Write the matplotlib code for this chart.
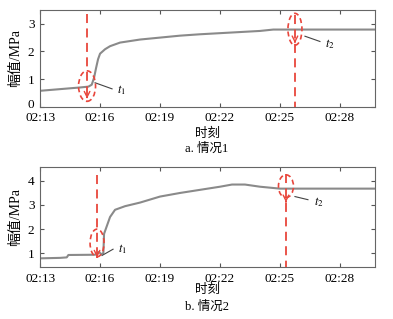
import matplotlib
matplotlib.use("Agg")
import matplotlib.pyplot as plt
import matplotlib.transforms as mtransforms
from matplotlib.patches import Ellipse

plt.rcParams['font.family'] = ['Liberation Serif', 'Noto Sans CJK SC']
plt.rcParams['mathtext.fontset'] = 'stix'

# ---- data ----
times_a = ["02:13:00", "02:14:00", "02:15:00", "02:15:25", "02:15:35", "02:15:42",
           "02:15:48", "02:15:54", "02:16:00", "02:16:15", "02:16:30", "02:17:00",
           "02:18:00", "02:19:00", "02:20:00", "02:21:00", "02:22:00", "02:23:00",
           "02:24:00", "02:24:40", "02:29:45"]
values_a = [0.58, 0.64, 0.70, 0.73, 0.80, 1.05, 1.40, 1.72, 1.92, 2.08, 2.19, 2.32,
            2.43, 2.50, 2.57, 2.62, 2.66, 2.70, 2.74, 2.79, 2.79]

times_b = ["02:13:00", "02:14:00", "02:14:20", "02:14:25", "02:15:45", "02:15:57",
           "02:16:03", "02:16:10", "02:16:12", "02:16:30", "02:16:45", "02:17:15",
           "02:18:00", "02:19:00", "02:20:00", "02:21:00", "02:22:00", "02:22:36",
           "02:23:15", "02:24:00", "02:25:00", "02:29:45"]
values_b = [0.78, 0.80, 0.82, 0.92, 0.93, 1.05, 0.95, 1.00, 1.80, 2.50, 2.80, 2.95,
            3.10, 3.35, 3.50, 3.63, 3.76, 3.85, 3.85, 3.76, 3.68, 3.68]

tick_labels = ["02:13", "02:16", "02:19", "02:22", "02:25", "02:28"]
event_times_a = ["02:15:21", "02:25:45"]
event_times_b = ["02:15:51", "02:25:18"]
captions = ["a. 情况1", "b. 情况2"]


def to_min(s):
    parts = [int(p) for p in s.split(":")]
    h, m = parts[0], parts[1]
    sec = parts[2] if len(parts) > 2 else 0
    return h * 60 + m + sec / 60.0


RED = '#e8463c'
GRAY = '#8a8a8a'

fig = plt.figure(figsize=(3.93, 3.19), dpi=100)
ax1 = fig.add_axes([0.102, 0.665, 0.852, 0.304])
ax2 = fig.add_axes([0.102, 0.163, 0.852, 0.3135])

tick_pos = [to_min(t) for t in tick_labels]


def style(ax, ylim, yticks):
    ax.set_xlim(to_min("02:13:00"), to_min("02:29:45"))
    ax.set_ylim(*ylim)
    ax.set_xticks(tick_pos)
    ax.set_xticklabels(tick_labels)
    ax.set_yticks(yticks)
    ax.tick_params(direction='in', top=True, right=True, length=3, labelsize=9.5,
                   colors='#555555', labelcolor='black')
    ax.tick_params(axis='x', pad=4)
    ax.tick_params(axis='y', pad=4)
    for sp in ax.spines.values():
        sp.set_color('#666666')
        sp.set_linewidth(0.8)
    ax.set_ylabel("幅值/MPa", fontsize=10)
    ax.yaxis.set_label_coords(-0.054, 0.5)


def event(ax, t, y_top, y_arrow, y_bottom, ell_c, ell_w, ell_h):
    x = to_min(t)
    ax.plot([x, x], [y_top, y_bottom], color=RED, lw=1.3, ls=(0, (5, 3)), zorder=3)
    ax.annotate("", xy=(x, y_arrow), xytext=(x, y_arrow + 0.25),
                arrowprops=dict(arrowstyle='->', color=RED, lw=1.0), zorder=3)
    ax.add_patch(Ellipse((x, ell_c), ell_w, ell_h, fill=False, edgecolor=RED,
                         lw=1.2, ls=(0, (3, 2)), zorder=3))


# top
style(ax1, (0, 3.5), [0, 1, 2, 3])
ax1.plot([to_min(t) for t in times_a], values_a, color=GRAY, lw=1.5, zorder=2)
event(ax1, event_times_a[0], 3.35, 0.2, 0.2, 0.75, 0.85, 1.1)
event(ax1, event_times_a[1], 3.3, 2.2, 0.0, 2.8, 0.7, 1.15)
ax1.plot([to_min("02:15:45"), to_min("02:16:36")], [0.87, 0.65], color='#444444', lw=0.8)
ax1.text(to_min("02:16:51"), 0.6, r'$t_1$', fontsize=9, va='center')
ax1.plot([to_min("02:26:15"), to_min("02:27:00")], [2.55, 2.36], color='#444444', lw=0.8)
ax1.text(to_min("02:27:15"), 2.25, r'$t_2$', fontsize=9, va='center')

# lift the "0" label slightly like in the reference
fig.canvas.draw()
zero_lbl = ax1.get_yticklabels()[0]
zero_lbl.set_transform(zero_lbl.get_transform() +
                       mtransforms.ScaledTranslation(0, 3 / 100, fig.dpi_scale_trans))

# bottom
style(ax2, (0.42, 4.58), [1, 2, 3, 4])
ax2.plot([to_min(t) for t in times_b], values_b, color=GRAY, lw=1.5, zorder=2)
event(ax2, event_times_b[0], 4.25, 0.7, 0.7, 1.42, 0.7, 1.15)
event(ax2, event_times_b[1], 4.3, 3.0, 0.42, 3.78, 0.75, 0.95)
ax2.plot([to_min("02:16:06"), to_min("02:16:39")], [0.9, 1.16], color='#444444', lw=0.8)
ax2.text(to_min("02:16:54"), 1.15, r'$t_1$', fontsize=9, va='center')
ax2.plot([to_min("02:25:45"), to_min("02:26:24")], [3.35, 3.22], color='#444444', lw=0.8)
ax2.text(to_min("02:26:42"), 3.1, r'$t_2$', fontsize=9, va='center')

fig.text(0.527, 0.581, "时刻", ha='center', va='center', fontsize=9)
fig.text(0.527, 0.533, captions[0], ha='center', va='center', fontsize=9)
fig.text(0.527, 0.092, "时刻", ha='center', va='center', fontsize=9)
fig.text(0.527, 0.040, captions[1], ha='center', va='center', fontsize=9)

fig.savefig("out.png", dpi=100)
